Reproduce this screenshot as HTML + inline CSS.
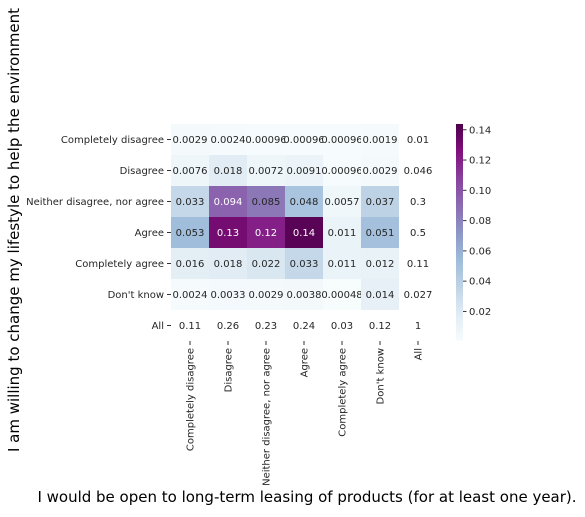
<!DOCTYPE html>
<html><head><meta charset="utf-8"><style>
body{margin:0;background:#fff;}
svg text{font-family:"DejaVu Sans","Liberation Sans",sans-serif;}
</style></head><body>
<svg id="c" width="585" height="512" xmlns="http://www.w3.org/2000/svg">
<defs><linearGradient id="g" x1="0" y1="1" x2="0" y2="0">
<stop offset="0" stop-color="#f7fcfd"/><stop offset="0.125" stop-color="#e0ecf4"/><stop offset="0.25" stop-color="#bfd3e6"/><stop offset="0.375" stop-color="#9ebcda"/><stop offset="0.5" stop-color="#8c96c6"/><stop offset="0.625" stop-color="#8c6bb1"/><stop offset="0.75" stop-color="#88419d"/><stop offset="0.875" stop-color="#810f7c"/><stop offset="1" stop-color="#4d004b"/>
</linearGradient></defs>
</svg>
<script>
const rowLabels=["Completely disagree","Disagree","Neither disagree, nor agree","Agree","Completely agree","Don't know","All"];
const colLabels=["Completely disagree","Disagree","Neither disagree, nor agree","Agree","Completely agree","Don't know","All"];
const values=[
[0.0029,0.0024,0.00096,0.00096,0.00096,0.0019,0.01],
[0.0076,0.018,0.0072,0.0091,0.00096,0.0029,0.046],
[0.033,0.094,0.085,0.048,0.0057,0.037,0.3],
[0.053,0.13,0.12,0.14,0.011,0.051,0.5],
[0.016,0.018,0.022,0.033,0.011,0.012,0.11],
[0.0024,0.0033,0.0029,0.0038,0.00048,0.014,0.027],
[0.11,0.26,0.23,0.24,0.03,0.12,1]];
const labels=[
["0.0029","0.0024","0.00096","0.00096","0.00096","0.0019","0.01"],
["0.0076","0.018","0.0072","0.0091","0.00096","0.0029","0.046"],
["0.033","0.094","0.085","0.048","0.0057","0.037","0.3"],
["0.053","0.13","0.12","0.14","0.011","0.051","0.5"],
["0.016","0.018","0.022","0.033","0.011","0.012","0.11"],
["0.0024","0.0033","0.0029","0.0038","0.00048","0.014","0.027"],
["0.11","0.26","0.23","0.24","0.03","0.12","1"]];
const cbTicks=[0.02,0.04,0.06,0.08,0.10,0.12,0.14];
const cbTickLabels=["0.02","0.04","0.06","0.08","0.10","0.12","0.14"];
const vmin=0.00048,vmax=0.1438;
const L=171,T=124,CW=38,RH=31;
const stops=[[0,[247,252,253]],[0.125,[224,236,244]],[0.25,[191,211,230]],[0.375,[158,188,218]],[0.5,[140,150,198]],[0.625,[140,107,177]],[0.75,[136,65,157]],[0.875,[129,15,124]],[1,[77,0,75]]];
function cmap(v){let t=Math.max(0,Math.min(1,(v-vmin)/(vmax-vmin)));for(let i=1;i<stops.length;i++){if(t<=stops[i][0]){const a=stops[i-1],b=stops[i],f=(t-a[0])/(b[0]-a[0]);const c=a[1].map((x,k)=>Math.round(x+(b[1][k]-x)*f));return [`rgb(${c})`,(0.299*c[0]+0.587*c[1]+0.114*c[2])<120];}}return ["#4d004b",true];}
const svg=document.getElementById('c');const NS="http://www.w3.org/2000/svg";
function el(tag,at,txt){const e=document.createElementNS(NS,tag);for(const k in at)e.setAttribute(k,at[k]);if(txt!==undefined)e.textContent=txt;svg.appendChild(e);return e;}
const x=j=>L+j*CW, y=i=>T+i*RH;
for(let i=0;i<7;i++)for(let j=0;j<7;j++){
 const masked=(i==6||j==6);let dark=false;
 if(!masked){const [col,d]=cmap(values[i][j]);dark=d;
  const r=el('rect',{x:x(j),y:y(i),width:CW,height:RH,fill:col});
  
  }
 const t=el('text',{x:x(j)+CW/2,y:y(i)+RH/2+3.5,'text-anchor':'middle','font-size':'10',fill:dark?'#fff':'#262626'},labels[i][j]);
 
 
}
rowLabels.forEach((s,i)=>{el('line',{x1:x(0)-4,x2:x(0),y1:y(i)+RH/2,y2:y(i)+RH/2,stroke:'#333'});
 const t=el('text',{x:x(0)-7,y:y(i)+RH/2+3.5,'text-anchor':'end','font-size':'10',fill:'#262626'},s);
 
 });
colLabels.forEach((s,j)=>{const cx=x(j)+CW/2,by=y(7);el('line',{x1:cx,x2:cx,y1:by,y2:by+4,stroke:'#333'});
 const t=el('text',{x:0,y:0,'text-anchor':'end','font-size':'10',fill:'#262626',transform:`translate(${cx+3.5},${by+7}) rotate(-90)`},s);
 
 });
const CB={x:456,w:7,top:124,bot:341};
const cy=v=>CB.bot-(v-vmin)/(vmax-vmin)*(CB.bot-CB.top);
const cb=el('rect',{x:CB.x,y:CB.top,width:CB.w,height:CB.bot-CB.top,fill:'url(#g)'});


cbTicks.forEach((v,k)=>{el('line',{x1:CB.x+CB.w,x2:CB.x+CB.w+3.5,y1:cy(v),y2:cy(v),stroke:'#333'});
 const t=el('text',{x:CB.x+CB.w+6,y:cy(v)+3.5,'font-size':'10',fill:'#262626'},cbTickLabels[k]);
 
 });
const xt=el('text',{x:307,y:502,'text-anchor':'middle','font-size':'15',fill:'#000'},"I would be open to long-term leasing of products (for at least one year).");


const yt=el('text',{x:0,y:0,'text-anchor':'middle','font-size':'15',fill:'#000',transform:'translate(19,230) rotate(-90)'},"I am willing to change my lifestyle to help the environment");


</script>
</body></html>
